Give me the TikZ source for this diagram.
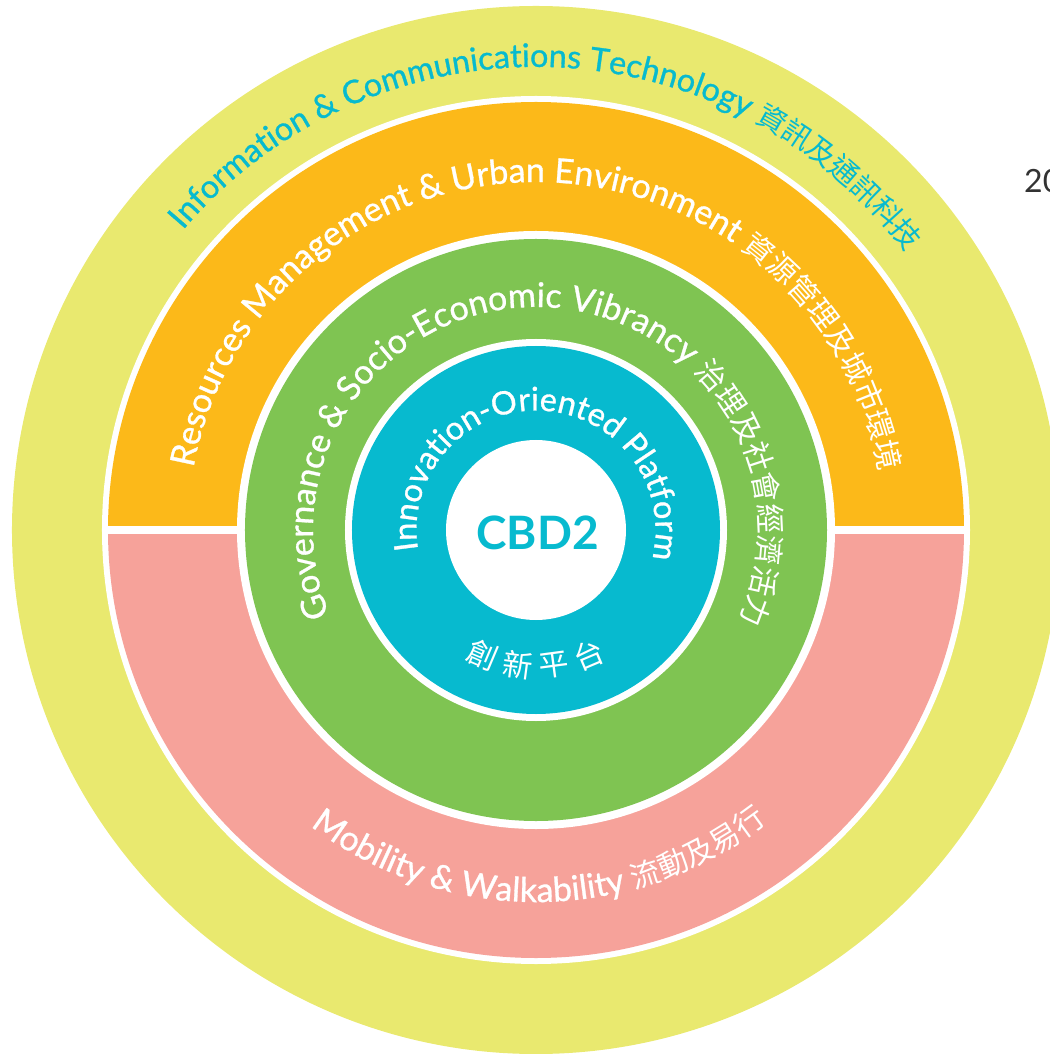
\documentclass[tikz,border=0pt]{standalone}
\usepackage{fontspec}
\setmainfont{Lato}
\newfontfamily\latmed{Lato}[FakeBold=0.9]
\newfontfamily\cjk{Noto Sans CJK TC}
\usetikzlibrary{decorations.text}
\definecolor{ringyellow}{RGB}{233,233,111}
\definecolor{ringorange}{RGB}{252,185,25}
\definecolor{ringpink}{RGB}{246,162,154}
\definecolor{ringgreen}{RGB}{127,196,82}
\definecolor{ringcyan}{RGB}{7,186,207}
\newcommand\latA{\latmed\fontsize{34bp}{40bp}\selectfont}
\newcommand\cjkA{\cjk\fontsize{30bp}{36bp}\selectfont}
\newcommand\latO{\latmed\fontsize{32.4bp}{38bp}\selectfont}
\newcommand\cjkO{\cjk\fontsize{29bp}{35bp}\selectfont}
\newcommand\latB{\latmed\fontsize{32.5bp}{38bp}\selectfont}
\begin{document}
\begin{tikzpicture}[x=1bp,y=1bp,
  cjkchar/.style={inner sep=0pt, text=white, font=\cjk\fontsize{30bp}{36bp}\selectfont}]
\useasboundingbox (-536,-524) rectangle (514,530);
\clip (-536,-524) rectangle (514,530);
% rings
\fill[ringyellow] (0,0) circle[radius=524bp];
\fill[white] (0,0) circle[radius=434bp];
\fill[ringorange] (0,0) -- (0:428bp) arc[start angle=0, end angle=180, radius=428bp] -- cycle;
\fill[ringpink] (0,0) -- (180:428bp) arc[start angle=180, end angle=360, radius=428bp] -- cycle;
\fill[white] (-432,-4) rectangle (432,4);
\fill[white] (0,0) circle[radius=299bp];
\fill[ringgreen] (0,0) circle[radius=291bp];
\fill[white] (0,0) circle[radius=191bp];
\fill[ringcyan] (0,0) circle[radius=184bp];
\fill[white] (0,0) circle[radius=90bp];
% ring texts
\path[decorate, decoration={text along path, text align=center, text color=ringcyan,
  text={|\latO|Information {\&} Communications Technology |\cjkO|資訊及通訊科技}}]
  (158.25:463bp) arc[start angle=158.25, end angle=18.25, radius=463bp];
\path[decorate, decoration={text along path, text align=center, text color=white,
  text={|\latA|Resources Management {\&} Urban Environment |\cjkA|資源管理及城市環境}}]
  (184.65:348bp) arc[start angle=184.65, end angle=-5.35, radius=348bp];
\path[decorate, decoration={text along path, text align=center, text color=white,
  text={|\latA|Governance {\&} Socio-Economic Vibrancy |\cjkA|治理及社會經濟活力}}]
  (219.1:223bp) arc[start angle=219.1, end angle=-40.9, radius=223bp];
\path[decorate, decoration={text along path, text align=center, text color=white,
  text={|\latB|Innovation-Oriented Platform}}]
  (207.75:119.5bp) arc[start angle=207.75, end angle=-32.25, radius=119.5bp];
\path[decorate, decoration={text along path, text align=center, text color=white,
  text={|\latA|Mobility {\&} Walkability |\cjkA|流動及易行}}]
  (210.55:372bp) arc[start angle=210.55, end angle=330.55, radius=372bp];
% bottom label of the inner ring
\foreach \ch [count=\i] in {創,新,平,台}{
  \pgfmathsetmacro\ang{270+(\i-2.5)*15.3}
  \pgfmathsetmacro\rot{\ang-270}
  \node[cjkchar, rotate=\rot] (inno\i) at (\ang:136bp) {\ch};
}
% centre
\node[text=ringcyan, font=\bfseries\fontsize{46bp}{50bp}\selectfont, inner sep=0pt] (cbd) at (1.5,-3) {CBD2};
% page number fragment
\node[anchor=base west, text=black!80, font=\fontsize{32bp}{36bp}\selectfont, inner sep=0pt] (pagenum) at (488,337) {20};
\end{tikzpicture}
\end{document}
